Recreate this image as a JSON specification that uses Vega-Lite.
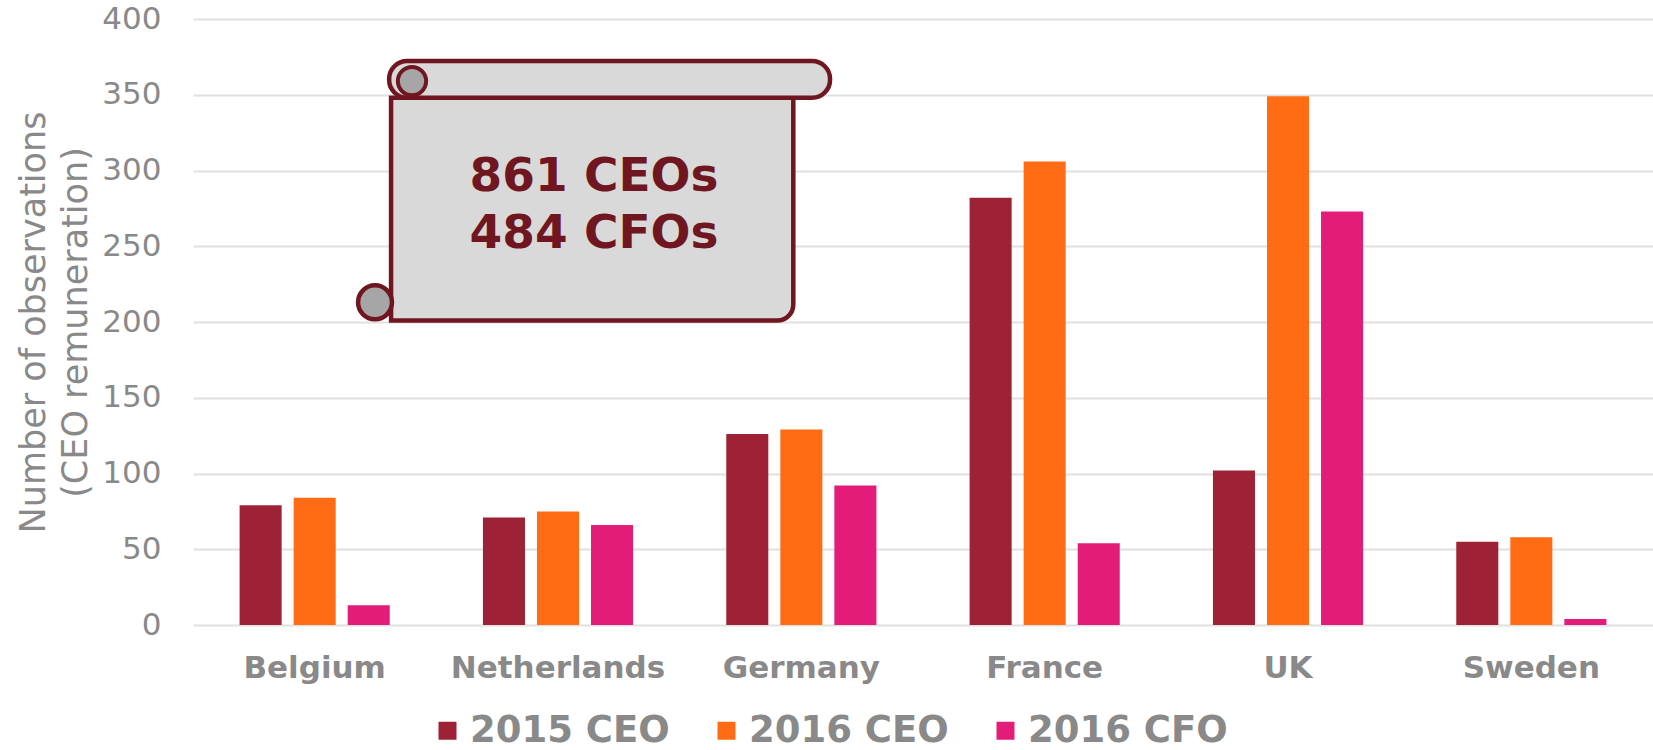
{
  "$schema": "https://vega.github.io/schema/vega-lite/v6.json",
  "width": 1460,
  "height": 606,
  "autosize": {"type": "none"},
  "padding": {"left": 193, "top": 19, "right": 0, "bottom": 125},
  "background": "white",
  "config": {
    "view": {"stroke": null},
    "font": "DejaVu Sans"
  },
  "layer": [
    {
      "data": {
        "values": [
          {"country": "Belgium", "series": "2015 CEO", "value": 79},
          {"country": "Belgium", "series": "2016 CEO", "value": 84},
          {"country": "Belgium", "series": "2016 CFO", "value": 13},
          {"country": "Netherlands", "series": "2015 CEO", "value": 71},
          {"country": "Netherlands", "series": "2016 CEO", "value": 75},
          {"country": "Netherlands", "series": "2016 CFO", "value": 66},
          {"country": "Germany", "series": "2015 CEO", "value": 126},
          {"country": "Germany", "series": "2016 CEO", "value": 129},
          {"country": "Germany", "series": "2016 CFO", "value": 92},
          {"country": "France", "series": "2015 CEO", "value": 282},
          {"country": "France", "series": "2016 CEO", "value": 306},
          {"country": "France", "series": "2016 CFO", "value": 54},
          {"country": "UK", "series": "2015 CEO", "value": 102},
          {"country": "UK", "series": "2016 CEO", "value": 349},
          {"country": "UK", "series": "2016 CFO", "value": 273},
          {"country": "Sweden", "series": "2015 CEO", "value": 55},
          {"country": "Sweden", "series": "2016 CEO", "value": 58},
          {"country": "Sweden", "series": "2016 CFO", "value": 4}
        ]
      },
      "mark": {"type": "bar"},
      "encoding": {
        "x": {
          "field": "country", "type": "nominal", "sort": null,
          "scale": {"paddingInner": 0.383, "paddingOuter": 0.1915},
          "axis": {
            "title": null, "labelAngle": 0, "ticks": false, "domain": false,
            "labelFontSize": 31, "labelFontWeight": "bold", "labelColor": "#898989",
            "labelPadding": 28, "labelFont": "DejaVu Sans", "labelLimit": 0
          }
        },
        "xOffset": {"field": "series", "type": "nominal", "scale": {"paddingInner": 0.222, "paddingOuter": 0}},
        "y": {
          "field": "value", "type": "quantitative",
          "scale": {"domain": [0, 400], "nice": false},
          "axis": {
            "values": [0, 50, 100, 150, 200, 250, 300, 350, 400],
            "title": ["Number of observations", "(CEO remuneration)"],
            "titleFontSize": 35, "titleFontWeight": "normal", "titleColor": "#898989",
            "titleLineHeight": 42, "titlePadding": 8, "titleFont": "DejaVu Sans",
            "labelFontSize": 31, "labelColor": "#898989", "labelPadding": 32, "labelFont": "DejaVu Sans",
            "ticks": false, "domain": false,
            "gridColor": "#e0e0e0", "gridWidth": 2
          }
        },
        "color": {
          "field": "series", "type": "nominal",
          "scale": {"domain": ["2015 CEO", "2016 CEO", "2016 CFO"], "range": ["#9e2236", "#ff6c14", "#e31c79"]},
          "legend": {
            "title": null, "orient": "none", "direction": "horizontal", "columns": 3,
            "legendX": 236, "legendY": 693, "padding": 0,
            "symbolType": "square", "symbolSize": 324, "symbolStrokeWidth": 0,
            "labelFontSize": 37, "labelFontWeight": "bold", "labelColor": "#898989", "labelFont": "DejaVu Sans",
            "labelOffset": 4, "columnPadding": 38, "labelLimit": 0
          }
        }
      }
    },
    {
      "data": {"values": [{}]},
      "layer": [
        {
          "mark": {"type": "rect", "fill": "#d9d9d9", "stroke": "#701620", "strokeWidth": 4.5, "cornerRadiusBottomRight": 16},
          "encoding": {
            "x": {"datum": 0.814, "type": "quantitative", "scale": {"domain": [0, 6], "nice": false, "zero": false}, "axis": null},
            "x2": {"datum": 2.467},
            "y": {"datum": 348, "type": "quantitative"},
            "y2": {"datum": 201}
          }
        },
        {
          "mark": {"type": "rect", "fill": "#d9d9d9", "stroke": "#701620", "strokeWidth": 4.5, "cornerRadius": 18},
          "encoding": {
            "x": {"datum": 0.806, "type": "quantitative", "scale": {"domain": [0, 6], "nice": false, "zero": false}, "axis": null},
            "x2": {"datum": 2.618},
            "y": {"datum": 372.3, "type": "quantitative"},
            "y2": {"datum": 348}
          }
        },
        {
          "mark": {"type": "point", "shape": "circle", "filled": true, "fill": "#a6a6a6", "stroke": "#701620", "strokeWidth": 4, "size": 800, "opacity": 1},
          "encoding": {
            "x": {"datum": 0.9, "type": "quantitative", "scale": {"domain": [0, 6], "nice": false, "zero": false}, "axis": null},
            "y": {"datum": 359, "type": "quantitative"}
          }
        },
        {
          "mark": {"type": "point", "shape": "circle", "filled": true, "fill": "#a6a6a6", "stroke": "#701620", "strokeWidth": 4.5, "size": 1150, "opacity": 1},
          "encoding": {
            "x": {"datum": 0.748, "type": "quantitative", "scale": {"domain": [0, 6], "nice": false, "zero": false}, "axis": null},
            "y": {"datum": 213, "type": "quantitative"}
          }
        },
        {
          "mark": {"type": "text", "text": "861 CEOs", "font": "DejaVu Sans", "fontSize": 47, "fontWeight": "bold", "color": "#701620", "align": "center", "baseline": "alphabetic"},
          "encoding": {
            "x": {"datum": 1.648, "type": "quantitative", "scale": {"domain": [0, 6], "nice": false, "zero": false}, "axis": null},
            "y": {"datum": 286.7, "type": "quantitative"}
          }
        },
        {
          "mark": {"type": "text", "text": "484 CFOs", "font": "DejaVu Sans", "fontSize": 47, "fontWeight": "bold", "color": "#701620", "align": "center", "baseline": "alphabetic"},
          "encoding": {
            "x": {"datum": 1.648, "type": "quantitative", "scale": {"domain": [0, 6], "nice": false, "zero": false}, "axis": null},
            "y": {"datum": 249, "type": "quantitative"}
          }
        }
      ]
    }
  ],
  "resolve": {"scale": {"x": "independent"}, "axis": {"x": "independent"}}
}
